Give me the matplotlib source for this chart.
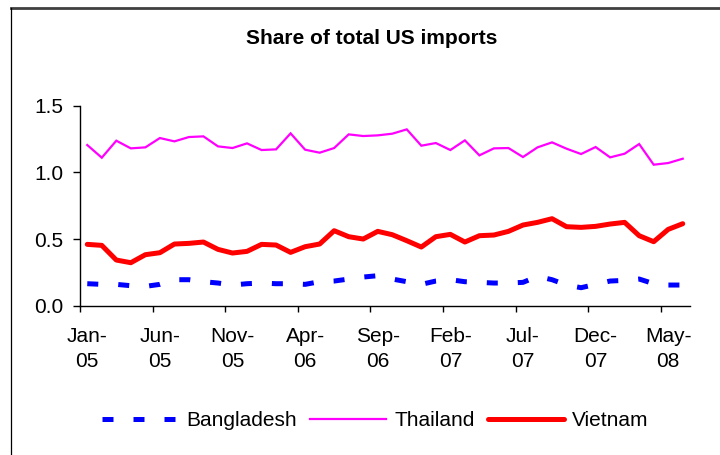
import matplotlib
matplotlib.use("Agg")
import matplotlib.pyplot as plt
from matplotlib.lines import Line2D

months = ["Jan","Feb","Mar","Apr","May","Jun","Jul","Aug","Sep","Oct","Nov","Dec"]
categories = [f"{months[m]}-{y:02d}" for y in range(5, 9) for m in range(12)][:42]

bangladesh = [0.165, 0.16, 0.16, 0.15, 0.145, 0.16, 0.195, 0.195, 0.18, 0.17,
              0.155, 0.165, 0.17, 0.165, 0.165, 0.16, 0.18, 0.185, 0.2, 0.215,
              0.225, 0.2, 0.18, 0.16, 0.185, 0.195, 0.18, 0.175, 0.17, 0.17,
              0.175, 0.22, 0.195, 0.155, 0.135, 0.16, 0.185, 0.19, 0.2, 0.165,
              0.155, 0.155]
thailand = [1.205, 1.11, 1.2375, 1.18, 1.1875, 1.2575, 1.2325, 1.265, 1.27, 1.195,
            1.1825, 1.2175, 1.1675, 1.1725, 1.2925, 1.17, 1.1475, 1.1825, 1.285, 1.2725,
            1.2775, 1.29, 1.3225, 1.2, 1.22, 1.1675, 1.24, 1.1275, 1.18, 1.1825,
            1.115, 1.1875, 1.225, 1.1775, 1.1375, 1.19, 1.1125, 1.14, 1.2125, 1.0575,
            1.07, 1.1025]
vietnam = [0.46, 0.4525, 0.3425, 0.3225, 0.3825, 0.3975, 0.4625, 0.4675, 0.4775, 0.4225,
           0.395, 0.4075, 0.46, 0.455, 0.40, 0.4425, 0.4625, 0.5625, 0.5175, 0.50,
           0.5575, 0.5325, 0.4875, 0.44, 0.5175, 0.535, 0.4775, 0.525, 0.53, 0.5575,
           0.605, 0.625, 0.6525, 0.5925, 0.5875, 0.595, 0.6125, 0.625, 0.525, 0.48,
           0.5725, 0.615]
yticks = [0.0, 0.5, 1.0, 1.5]
ytick_labels = ["0.0", "0.5", "1.0", "1.5"]

plt.rcParams['font.family'] = ['Liberation Sans', 'DejaVu Sans']
FS = 15

W, H = 720, 455
fig = plt.figure(figsize=(7.2, 4.55), dpi=100)
ax = fig.add_axes([80 / W, 1 - 305.7 / H, 610 / W, 200 / H])

x = list(range(len(categories)))
ax.plot(x, bangladesh, color="#0000FF", lw=3.6, ls=(0, (2.2, 4.0)),
        dash_capstyle="butt", label="Bangladesh")
ax.plot(x, thailand, color="#FF00FF", lw=1.6, solid_joinstyle="miter", label="Thailand")
ax.plot(x, vietnam, color="#FF0000", lw=3.6, solid_joinstyle="round",
        solid_capstyle="round", label="Vietnam")

ax.set_xlim(-0.5, len(categories) - 0.5)
ax.set_ylim(0, 1.5)
ax.set_yticks(yticks)
ax.set_yticklabels(ytick_labels)

major = [i - 0.5 for i in range(0, 41, 5)]
ax.set_xticks(major)
ax.set_xticklabels([""] * len(major))
lab_pos = list(range(0, len(categories), 5))
ax.set_xticks(lab_pos, minor=True)
ax.set_xticklabels([categories[i].replace("-", "-\n") for i in lab_pos], minor=True)
ax.tick_params(axis="x", which="minor", length=0, pad=15, labelsize=FS)
ax.tick_params(axis="x", which="major", length=4, width=1, direction="out")
ax.tick_params(axis="y", length=5, width=1, direction="out", labelsize=FS, pad=7)
for lbl in ax.get_xticklabels(minor=True):
    lbl.set_linespacing(1.4)

for s in ["top", "right"]:
    ax.spines[s].set_visible(False)
for s in ["left", "bottom"]:
    ax.spines[s].set_linewidth(1.0)
    ax.spines[s].set_color("black")

fig.text(372 / W, 1 - 38 / H, "Share of total US imports", ha="center", va="center",
         fontsize=FS, fontweight="bold")

fig.legend(loc="center", bbox_to_anchor=(375 / W, 1 - 421 / H), ncol=3, frameon=False,
           fontsize=FS, handlelength=3.65, handletextpad=0.4, columnspacing=0.63)

# outer chart frame (partially visible)
fig.add_artist(Line2D([10.5 / W, 1.0], [1 - 7.5 / H, 1 - 7.5 / H], color="#404040",
                      lw=2.0, transform=fig.transFigure))
fig.add_artist(Line2D([10.5 / W, 10.5 / W], [0, 1 - 7.5 / H], color="black",
                      lw=0.9, transform=fig.transFigure))

fig.savefig("out.png", dpi=100)
